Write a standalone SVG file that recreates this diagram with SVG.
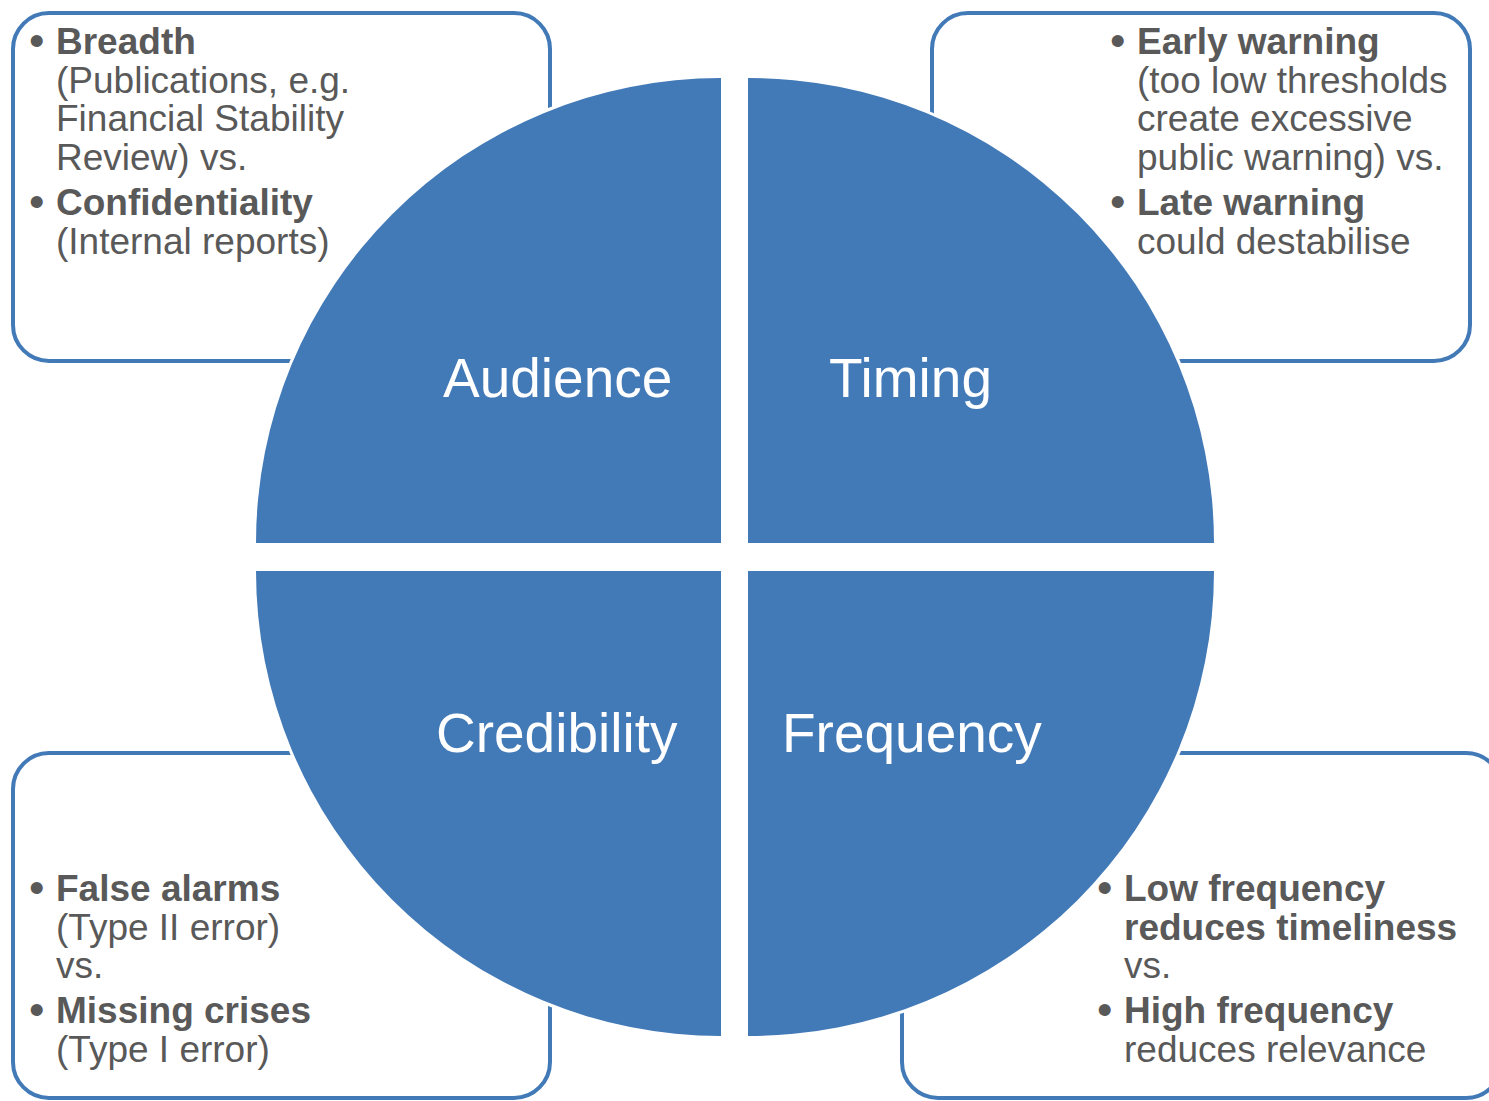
<svg xmlns="http://www.w3.org/2000/svg" width="1489" height="1101" viewBox="0 0 1489 1101">
  <style>
    .box { fill: #ffffff; stroke: #4279B7; stroke-width: 4; }
    .halo { fill: #ffffff; stroke: #ffffff; stroke-width: 6; }
    .quad { fill: #4279B7; }
    .label { font-family: "Liberation Sans", Arial, sans-serif; font-size: 55px; fill: #ffffff; }
    .txt { font-family: "Liberation Sans", Arial, sans-serif; font-size: 37px; fill: #595959; }
    .bul { font-family: "Liberation Sans", Arial, sans-serif; font-size: 44px; fill: #595959; }
    .b { font-weight: bold; }
  </style>
  <rect width="1489" height="1101" fill="#ffffff"/>

  <!-- Audience: top-left quarter with its note box -->
  <g id="audience">
    <rect class="box" x="13" y="13" width="537" height="348" rx="36" ry="36"/>
    <path class="halo" d="M721,543 L256,543 A465,465 0 0 1 721,78 Z"/>
    <path class="quad" d="M721,543 L256,543 A465,465 0 0 1 721,78 Z"/>
    <text class="label" x="443" y="397">Audience</text>
    <text class="bul" x="29" y="56">•</text>
    <text class="txt b" x="56" y="54">Breadth</text>
    <text class="txt" x="56" y="93">(Publications, e.g.</text>
    <text class="txt" x="56" y="131">Financial Stability</text>
    <text class="txt" x="56" y="170">Review) vs.</text>
    <text class="bul" x="29" y="217">•</text>
    <text class="txt b" x="56" y="215">Confidentiality</text>
    <text class="txt" x="56" y="254">(Internal reports)</text>
  </g>

  <!-- Timing: top-right quarter with its note box -->
  <g id="timing">
    <rect class="box" x="932" y="13" width="538" height="348" rx="36" ry="36"/>
    <path class="halo" d="M748,543 L748,78 A465,465 0 0 1 1214,543 Z"/>
    <path class="quad" d="M748,543 L748,78 A465,465 0 0 1 1214,543 Z"/>
    <text class="label" x="829" y="397">Timing</text>
    <text class="bul" x="1110" y="56">•</text>
    <text class="txt b" x="1137" y="54">Early warning</text>
    <text class="txt" x="1137" y="93">(too low thresholds</text>
    <text class="txt" x="1137" y="131">create excessive</text>
    <text class="txt" x="1137" y="170">public warning) vs.</text>
    <text class="bul" x="1110" y="217">•</text>
    <text class="txt b" x="1137" y="215">Late warning</text>
    <text class="txt" x="1137" y="254">could destabilise</text>
  </g>

  <!-- Credibility: bottom-left quarter with its note box -->
  <g id="credibility">
    <rect class="box" x="13" y="753" width="537" height="345" rx="36" ry="36"/>
    <path class="halo" d="M721,571 L721,1036 A465,465 0 0 1 256,571 Z"/>
    <path class="quad" d="M721,571 L721,1036 A465,465 0 0 1 256,571 Z"/>
    <text class="label" x="436" y="752">Credibility</text>
    <text class="bul" x="29" y="903">•</text>
    <text class="txt b" x="56" y="901">False alarms</text>
    <text class="txt" x="56" y="940">(Type II error)</text>
    <text class="txt" x="56" y="978">vs.</text>
    <text class="bul" x="29" y="1025">•</text>
    <text class="txt b" x="56" y="1023">Missing crises</text>
    <text class="txt" x="56" y="1062">(Type I error)</text>
  </g>

  <!-- Frequency: bottom-right quarter with its note box -->
  <g id="frequency">
    <rect class="box" x="902" y="753" width="600" height="345" rx="36" ry="36"/>
    <path class="halo" d="M748,571 L1214,571 A465,465 0 0 1 748,1036 Z"/>
    <path class="quad" d="M748,571 L1214,571 A465,465 0 0 1 748,1036 Z"/>
    <text class="label" x="782" y="752">Frequency</text>
    <text class="bul" x="1097" y="903">•</text>
    <text class="txt b" x="1124" y="901">Low frequency</text>
    <text class="txt b" x="1124" y="940">reduces timeliness</text>
    <text class="txt" x="1124" y="978">vs.</text>
    <text class="bul" x="1097" y="1025">•</text>
    <text class="txt b" x="1124" y="1023">High frequency</text>
    <text class="txt" x="1124" y="1062">reduces relevance</text>
  </g>
</svg>
